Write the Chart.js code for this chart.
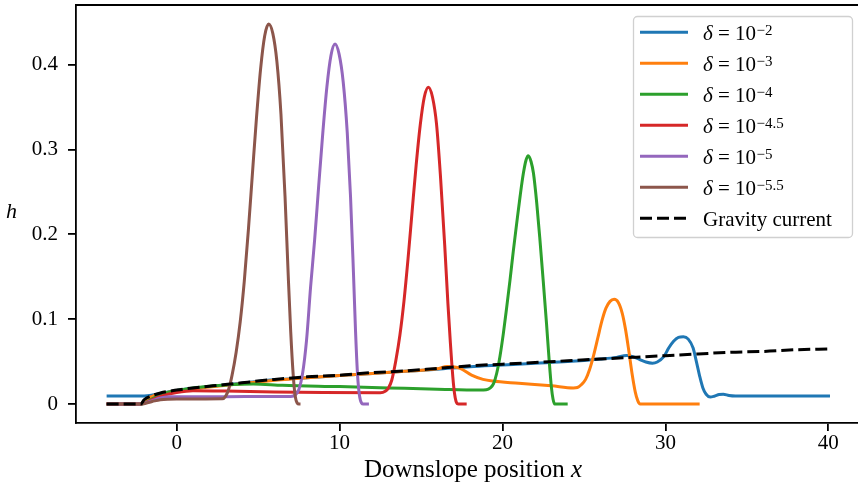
<!DOCTYPE html>
<html>
<head>
<meta charset="utf-8">
<script src="https://cdn.jsdelivr.net/npm/chart.js@4"></script>
<style>
html, body { margin: 0; padding: 0; background: #fff; overflow: hidden; }
canvas { display: block; }
</style>
</head>
<body>
<canvas id="chart" width="858" height="492"></canvas>
<script>
// thin film profiles h(x) for several delta
var xTicks = [0, 10, 20, 30, 40];
var hTicks = [0, 0.1, 0.2, 0.3, 0.4];
var deltaExps = ['\u22122', '\u22123', '\u22124', '\u22124.5', '\u22125', '\u22125.5'];

var d2X = [-4.3, -2.0, -1.5, -1.0, 0, 2, 4, 6, 8, 10, 12, 14, 16, 18, 20, 22, 24, 26, 27, 27.6, 28.0, 28.4, 28.8, 29.2, 29.5, 29.9, 30.2, 30.5, 30.8, 31.1, 31.4, 31.7, 31.9, 32.1, 32.3, 32.5, 32.75, 33.0, 33.3, 33.55, 33.9, 34.3, 40.1];
var d2H = [0.0094, 0.0094, 0.0105, 0.0125, 0.016, 0.0205, 0.0245, 0.0285, 0.031, 0.0335, 0.036, 0.0385, 0.041, 0.044, 0.046, 0.048, 0.050, 0.053, 0.055, 0.0572, 0.0558, 0.0527, 0.0495, 0.0481, 0.0495, 0.0558, 0.066, 0.074, 0.0785, 0.0792, 0.0765, 0.066, 0.050, 0.033, 0.019, 0.0115, 0.0082, 0.0092, 0.0112, 0.0116, 0.0101, 0.0095, 0.0094];

var d3X = [-4.3, -2.2, -2.0, -1.5, -1.0, 0, 2, 4, 6, 8, 10, 12, 14, 16, 16.6, 17.4, 18.1, 18.8, 19.4, 21, 23, 24.35, 24.6, 24.85, 25.1, 25.35, 25.6, 25.85, 26.1, 26.35, 26.6, 26.85, 27.1, 27.35, 27.55, 27.75, 27.95, 28.15, 28.3, 28.45, 32.1];
var d3H = [0, 0, 0.004, 0.009, 0.012, 0.0155, 0.020, 0.024, 0.028, 0.031, 0.0335, 0.036, 0.0385, 0.0415, 0.0442, 0.042, 0.034, 0.029, 0.027, 0.0245, 0.0215, 0.019, 0.0195, 0.023, 0.029, 0.041, 0.058, 0.078, 0.098, 0.113, 0.121, 0.1234, 0.120, 0.107, 0.088, 0.063, 0.036, 0.014, 0.004, 0, 0];

var d4X = [-4.3, -2.2, -1.5, -1.0, -0.5, 0, 1, 2, 3, 4.7, 6.5, 10, 13, 16, 18.6, 19.0, 19.25, 19.45, 19.64, 19.85, 20.05, 20.25, 20.46, 20.66, 20.87, 21.08, 21.28, 21.45, 21.58, 21.75, 21.9, 22.1, 22.3, 22.5, 22.7, 22.85, 23.0, 23.1, 23.2, 24.0];
var d4H = [0, 0, 0.006, 0.011, 0.014, 0.016, 0.019, 0.021, 0.0225, 0.0236, 0.022, 0.0205, 0.019, 0.0175, 0.0165, 0.0168, 0.019, 0.024, 0.036, 0.057, 0.083, 0.113, 0.146, 0.180, 0.213, 0.245, 0.272, 0.288, 0.2928, 0.286, 0.272, 0.237, 0.193, 0.145, 0.095, 0.055, 0.020, 0.006, 0, 0];

var d45X = [-4.3, -2.2, -1.5, -1.0, 0, 1.0, 3, 6, 9, 12.5, 12.8, 13.0, 13.2, 13.45, 13.7, 13.95, 14.2, 14.45, 14.7, 14.95, 15.2, 15.45, 15.7, 15.95, 16.2, 16.45, 16.65, 16.8, 16.95, 17.05, 17.15, 17.3, 17.8];
var d45H = [0, 0, 0.005, 0.009, 0.0135, 0.0157, 0.0153, 0.0142, 0.0136, 0.0133, 0.015, 0.019, 0.028, 0.051, 0.081, 0.121, 0.171, 0.227, 0.282, 0.329, 0.362, 0.3735, 0.362, 0.330, 0.266, 0.188, 0.118, 0.072, 0.032, 0.013, 0.003, 0, 0];

var d5X = [-4.3, -2.2, -1.5, -1.0, -0.5, 0, 3, 7.0, 7.3, 7.5, 7.72, 7.97, 8.22, 8.47, 8.72, 8.97, 9.22, 9.47, 9.72, 9.97, 10.22, 10.47, 10.67, 10.85, 10.98, 11.1, 11.22, 11.35, 11.45, 11.8];
var d5H = [0, 0, 0.004, 0.007, 0.0085, 0.0087, 0.0087, 0.0088, 0.011, 0.017, 0.035, 0.075, 0.138, 0.194, 0.258, 0.320, 0.374, 0.411, 0.4245, 0.4125, 0.380, 0.320, 0.245, 0.155, 0.085, 0.035, 0.010, 0.001, 0, 0];

var d55X = [-4.3, -2.2, -1.5, -1.0, 0, 2.8, 3.0, 3.2, 3.4, 3.65, 3.9, 4.15, 4.4, 4.65, 4.9, 5.15, 5.4, 5.65, 5.9, 6.15, 6.4, 6.65, 6.85, 7.0, 7.15, 7.27, 7.4, 7.5, 7.6];
var d55H = [0, 0, 0.003, 0.005, 0.0059, 0.0062, 0.009, 0.018, 0.034, 0.061, 0.097, 0.145, 0.205, 0.272, 0.338, 0.395, 0.434, 0.448, 0.437, 0.404, 0.342, 0.245, 0.150, 0.085, 0.035, 0.010, 0.001, 0, 0];

var gcX = [-4.3, -2.2, -2.0, -1.5, -1.0, 0, 1, 2, 4, 6, 8, 10, 12, 14, 16, 18, 20, 22, 24, 26, 28, 30, 32, 34, 36, 38, 40.1];
var gcH = [0, 0, 0.005, 0.010, 0.013, 0.0165, 0.019, 0.021, 0.025, 0.029, 0.032, 0.034, 0.037, 0.039, 0.042, 0.045, 0.047, 0.049, 0.051, 0.053, 0.055, 0.057, 0.059, 0.061, 0.062, 0.064, 0.065];

var colors = ['#1f77b4', '#ff7f0e', '#2ca02c', '#d62728', '#9467bd', '#8c564b'];
var SERIF = '"Liberation Serif", "Times New Roman", serif';

function pts(xs, hs) {
  return xs.map(function(x, i) { return { x: x, y: hs[i] }; });
}

function curve(label, xs, hs, color, order) {
  return {
    label: label,
    data: pts(xs, hs),
    borderColor: color,
    backgroundColor: color,
    borderWidth: 3,
    pointRadius: 0,
    fill: false,
    cubicInterpolationMode: 'monotone',
    order: order
  };
}

var datasets = [
  curve('d2', d2X, d2H, colors[0], 6),
  curve('d3', d3X, d3H, colors[1], 5),
  curve('d4', d4X, d4H, colors[2], 4),
  curve('d45', d45X, d45H, colors[3], 3),
  curve('d5', d5X, d5H, colors[4], 2),
  curve('d55', d55X, d55H, colors[5], 1)
];
var gc = curve('Gravity current', gcX, gcH, '#000000', 0);
gc.borderDash = [12, 5];
gc.borderCapStyle = 'butt';
datasets.push(gc);

function drawLegend(ctx) {
  var x0 = 633.5, y0 = 16.5, w = 219, h = 221, r = 4;
  ctx.save();
  ctx.beginPath();
  ctx.moveTo(x0 + r, y0);
  ctx.arcTo(x0 + w, y0, x0 + w, y0 + h, r);
  ctx.arcTo(x0 + w, y0 + h, x0, y0 + h, r);
  ctx.arcTo(x0, y0 + h, x0, y0, r);
  ctx.arcTo(x0, y0, x0 + w, y0, r);
  ctx.closePath();
  ctx.fillStyle = 'rgba(255,255,255,0.8)';
  ctx.fill();
  ctx.strokeStyle = '#d0d0d0';
  ctx.lineWidth = 1.3;
  ctx.stroke();

  for (var i = 0; i < 7; i++) {
    var y = 32.3 + i * 31;
    ctx.beginPath();
    ctx.lineWidth = 3;
    ctx.lineCap = 'butt';
    if (i === 6) { ctx.strokeStyle = '#000'; ctx.setLineDash([12, 5]); }
    else { ctx.strokeStyle = colors[i]; ctx.setLineDash([]); }
    ctx.moveTo(640, y);
    ctx.lineTo(688, y);
    ctx.stroke();
    ctx.setLineDash([]);

    ctx.fillStyle = '#000';
    ctx.textBaseline = 'alphabetic';
    ctx.textAlign = 'left';
    var tx = 703;
    if (i === 6) {
      ctx.font = '21px ' + SERIF;
      ctx.fillText('Gravity current', tx, y + 7.5);
    } else {
      ctx.font = 'italic 21px ' + SERIF;
      ctx.fillText('\u03b4', tx, y + 7.5);
      tx += ctx.measureText('\u03b4').width;
      ctx.font = '21px ' + SERIF;
      ctx.fillText(' = 10', tx, y + 7.5);
      tx += ctx.measureText(' = 10').width;
      ctx.font = '15px ' + SERIF;
      ctx.fillText(deltaExps[i], tx + 0.5, y + 2.5);
    }
  }
  ctx.restore();
}

var extras = {
  id: 'extras',
  afterDraw: function(chart) {
    var ctx = chart.ctx;
    var a = chart.chartArea;
    ctx.save();
    // top spine
    ctx.strokeStyle = '#000';
    ctx.lineWidth = 1.8;
    ctx.beginPath();
    ctx.moveTo(a.left - 0.9, a.top);
    ctx.lineTo(858, a.top);
    ctx.stroke();

    // y label, horizontal italic h
    ctx.fillStyle = '#000';
    ctx.textBaseline = 'alphabetic';
    ctx.textAlign = 'left';
    ctx.font = 'italic 22px ' + SERIF;
    ctx.fillText('h', 6, 218);

    // x label with italic x
    var t1 = 'Downslope position ';
    ctx.font = '25px ' + SERIF;
    var w1 = ctx.measureText(t1).width;
    ctx.font = 'italic 25px ' + SERIF;
    var w2 = ctx.measureText('x').width;
    var sx = 473 - (w1 + w2) / 2;
    ctx.font = '25px ' + SERIF;
    ctx.fillText(t1, sx, 477);
    ctx.font = 'italic 25px ' + SERIF;
    ctx.fillText('x', sx + w1, 477);
    ctx.restore();

    drawLegend(ctx);
  }
};

var tickFont = { family: SERIF, size: 21 };

new Chart(document.getElementById('chart').getContext('2d'), {
  type: 'line',
  data: { datasets: datasets },
  options: {
    responsive: false,
    animation: false,
    devicePixelRatio: 1,
    layout: { padding: { top: 5, right: 0, left: 0, bottom: 0 } },
    plugins: {
      legend: { display: false },
      tooltip: { enabled: false }
    },
    scales: {
      x: {
        type: 'linear',
        min: -6.18,
        max: 41.82,
        afterBuildTicks: function(s) { s.ticks = xTicks.map(function(v) { return { value: v }; }); },
        afterFit: function(s) { s.height = 69; s.paddingLeft = 0; s.paddingRight = 0; },
        ticks: {
          color: '#000',
          font: tickFont,
          padding: 0,
          maxRotation: 0,
          autoSkip: false,
          callback: function(v) { return String(v); }
        },
        grid: { drawOnChartArea: false, drawTicks: true, tickLength: 8, color: '#000', lineWidth: 1.8 },
        border: { display: true, color: '#000', width: 1.8 }
      },
      y: {
        type: 'linear',
        min: -0.0224,
        max: 0.4705,
        afterBuildTicks: function(s) { s.ticks = hTicks.map(function(v) { return { value: v }; }); },
        afterFit: function(s) { s.width = 76; s.paddingTop = 0; s.paddingBottom = 0; },
        ticks: {
          color: '#000',
          font: tickFont,
          padding: 10,
          autoSkip: false,
          callback: function(v) { return v === 0 ? '0' : v.toFixed(1); }
        },
        grid: { drawOnChartArea: false, drawTicks: true, tickLength: 8, color: '#000', lineWidth: 1.8 },
        border: { display: true, color: '#000', width: 1.8 }
      }
    }
  },
  plugins: [extras]
});
</script>
</body>
</html>
